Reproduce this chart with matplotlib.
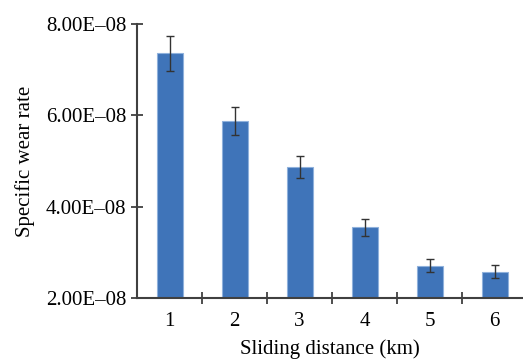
import numpy as np
import matplotlib.pyplot as plt
from matplotlib.ticker import FuncFormatter

plt.rcParams['font.family'] = ['Liberation Serif', 'DejaVu Serif']

# sliding distance (km) vs specific wear rate
distance = [1, 2, 3, 4, 5, 6]
wear_rate = [7.36e-08, 5.88e-08, 4.87e-08, 3.55e-08, 2.71e-08, 2.58e-08]
wear_err = [0.38e-08, 0.30e-08, 0.24e-08, 0.19e-08, 0.14e-08, 0.14e-08]
y_ticks = [2e-08, 4e-08, 6e-08, 8e-08]

fig = plt.figure(figsize=(5.23, 3.61), dpi=100)
ax = fig.add_axes([137 / 523, 63 / 361, (523 - 137) / 523, (298 - 24) / 361])

x = np.arange(len(distance))
ax.bar(x, wear_rate, width=0.4, color='#3f74b9', edgecolor='#8fb1dc', linewidth=0.8,
       yerr=wear_err, capsize=3,
       error_kw=dict(ecolor='#333333', elinewidth=1.0, capthick=1.0), zorder=2)

ax.set_ylim(2e-08, 8e-08)
ax.set_xlim(-0.5, (523 - 137) / 65 - 0.5)
ax.set_yticks(y_ticks)
ax.yaxis.set_major_formatter(FuncFormatter(
    lambda v, p: ('%.2E' % v).replace('-', '\u2013')))

# category labels sit between the boundary ticks
ax.set_xticks(x[:-1] + 0.5)
ax.set_xticklabels([])
ax.set_xticks(x, minor=True)
ax.set_xticklabels([str(d) for d in distance], minor=True)
ax.tick_params(axis='x', which='minor', length=0, pad=10, labelsize=15)
ax.tick_params(axis='x', which='major', direction='inout', length=9, width=1.3,
               color='#404040')
ax.tick_params(axis='y', direction='inout', length=9, width=1.3, color='#404040',
               labelsize=15, pad=3)

for s in ['top', 'right']:
    ax.spines[s].set_visible(False)
for s in ['left', 'bottom']:
    ax.spines[s].set_color('#404040')
    ax.spines[s].set_linewidth(1.5)

ax.set_xlabel('Sliding distance (km)', fontsize=15)
ax.xaxis.set_label_coords((330 - 137) / (523 - 137), -0.15)
ax.set_ylabel('Specific wear rate', fontsize=15)
ax.yaxis.set_label_coords(-0.265, 0.5)

fig.savefig('out.png', dpi=100)
